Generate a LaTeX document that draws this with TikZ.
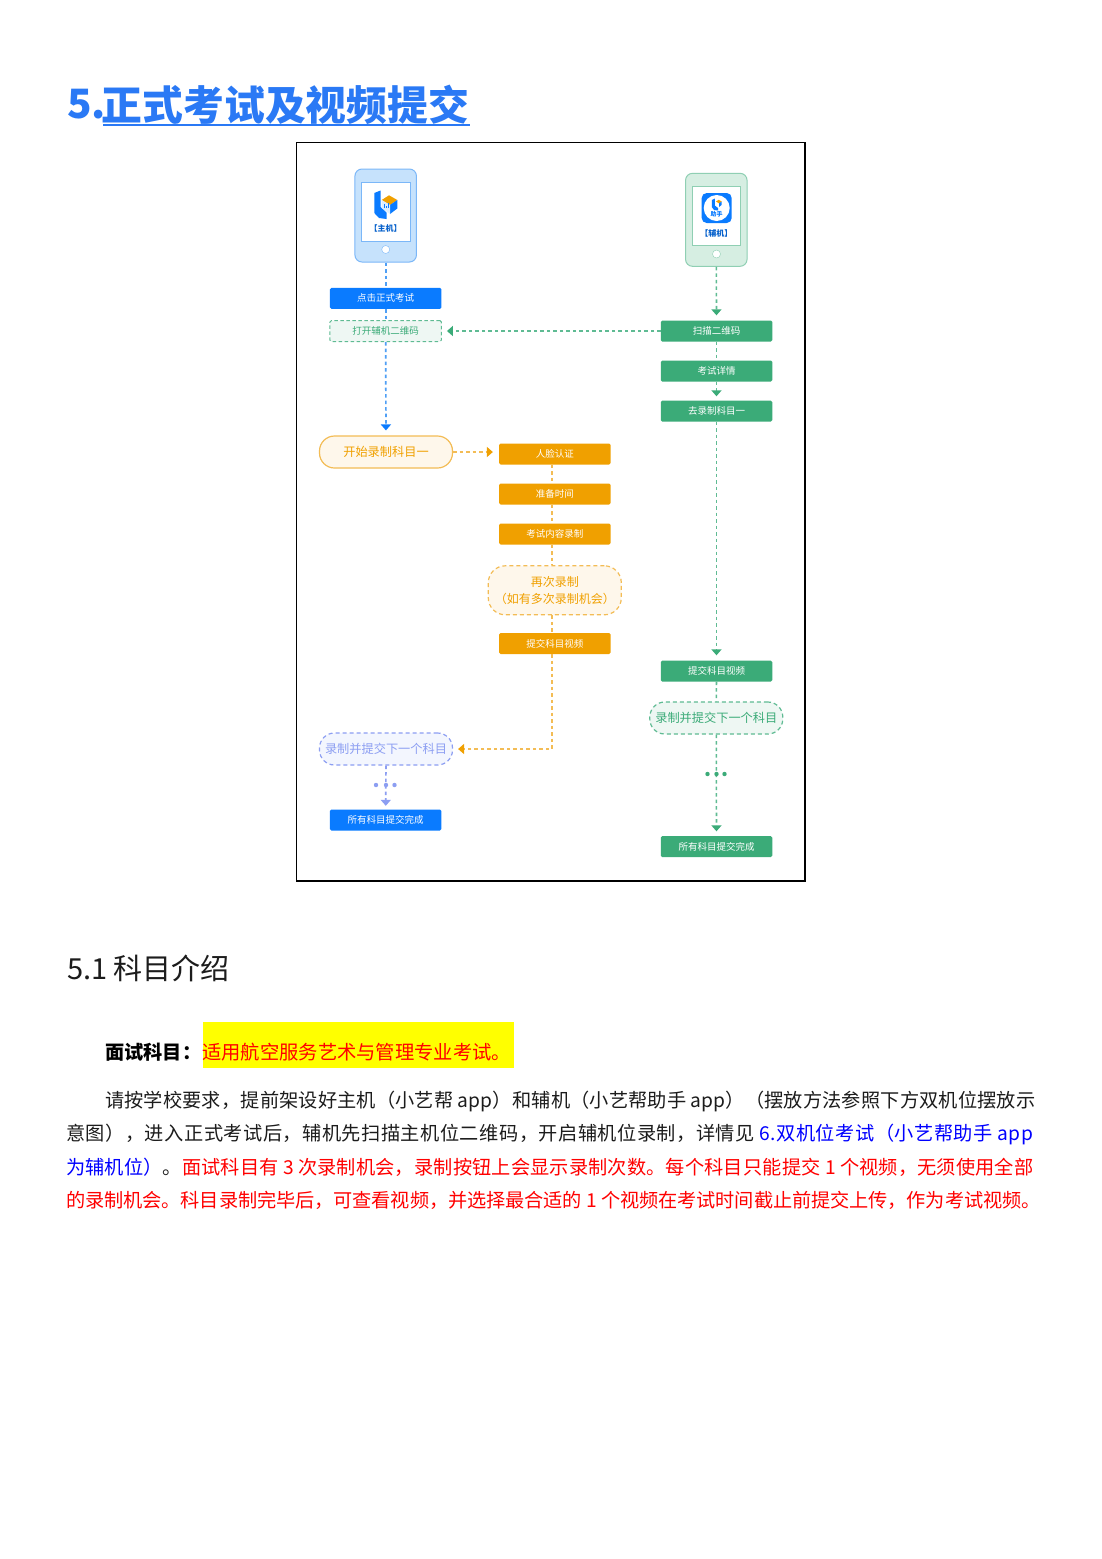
\documentclass[tikz,border=0pt]{standalone}
\usepackage{fontspec}
\usepackage{xcolor}
\setmainfont{Noto Sans CJK SC}
\usetikzlibrary{arrows.meta}
\usetikzlibrary{shapes.geometric}
\definecolor{colorBlue}{HTML}{0A7BFF}
\definecolor{colorBlueDash}{HTML}{4F9FF5}
\definecolor{colorBlueSoft}{HTML}{C6E2FC}
\definecolor{colorIndigo}{HTML}{8C9EF2}
\definecolor{colorIndigoSoft}{HTML}{F3F6FE}
\definecolor{colorGreen}{HTML}{3BAB78}
\definecolor{colorGreenLine}{HTML}{5FBB93}
\definecolor{colorGreenSoft}{HTML}{D6EEE2}
\definecolor{colorGreenPale}{HTML}{EEF7F3}
\definecolor{colorOrange}{HTML}{F0A000}
\definecolor{colorOrangeLine}{HTML}{F3BC55}
\definecolor{colorOrangeSoft}{HTML}{FEF7EB}
\definecolor{colorTitle}{HTML}{2A79F5}
\definecolor{colorInk}{HTML}{1C1C1C}
\definecolor{colorLink}{HTML}{0000FF}
\definecolor{colorMark}{HTML}{FFFF00}
\definecolor{colorAlert}{HTML}{FF0000}
\def\tracked#1{\addfontfeature{LetterSpace=#1}}
\tikzset{
  flowbox/.style={rectangle, rounded corners=1.5pt, minimum width=111.5pt, minimum height=21pt,
    inner sep=0pt, text=white, font=\fontsize{9.5}{11}\selectfont},
  bluebox/.style={flowbox, fill=colorBlue},
  greenbox/.style={flowbox, fill=colorGreen},
  orangebox/.style={flowbox, fill=colorOrange},
  dashbox/.style={flowbox, draw=colorGreenLine, fill=colorGreenPale, text=colorGreen,
    line width=1pt, dash pattern=on 3.5pt off 2.5pt},
  pill/.style={rectangle, rounded corners=15pt, minimum width=133pt, minimum height=32pt,
    inner sep=0pt, line width=1.2pt, font=\fontsize{12.2}{15}\selectfont},
  dashpill/.style={pill, dash pattern=on 4pt off 3pt},
  phone/.style={rectangle, rounded corners=7pt, minimum width=61.5pt, minimum height=93pt,
    inner sep=0pt, line width=1pt},
  screen/.style={rectangle, fill=white, minimum width=48.5pt, minimum height=59pt,
    inner sep=0pt, line width=0.8pt},
  bluelink/.style={draw=colorBlueDash, line width=1.7pt, dash pattern=on 3.5pt off 3pt},
  greenlink/.style={draw=colorGreenLine, line width=1.6pt, dash pattern=on 3.5pt off 3pt},
  orangelink/.style={draw=colorOrangeLine, line width=1.7pt, dash pattern=on 3.5pt off 3pt},
  indigolink/.style={draw=colorIndigo, line width=1.7pt, dash pattern=on 3.5pt off 3pt},
  bodyline/.style={anchor=base west, inner sep=0pt, text=colorInk,
    font=\fontsize{19.2}{24}\selectfont},
}
\begin{document}
\begin{tikzpicture}[x=1pt,y=-1pt]
  \useasboundingbox (0,0) rectangle (1102,1559);
  \fill[white] (0,0) rectangle (1102,1559);

  % Titres
  \node[anchor=west, inner sep=0pt, text=colorTitle, font=\fontsize{40.4}{48}\bfseries\selectfont] (titlenum)
    at (67,104.5) {5.};
  \node[anchor=west, inner sep=0pt, text=colorTitle, font=\fontsize{40.8}{48}\bfseries\selectfont] (titletext)
    at (101.7,104.5) {正式考试及视频提交};
  \draw[colorTitle, line width=1.8pt] (103,125.2) -- (469.5,125.2);
  \node[anchor=west, inner sep=0pt, text=colorInk, font=\fontsize{29}{36}\selectfont] (subtitle)
    at (67,968) {5.1 科目介绍};

  % Cadre
  \node[draw=black, line width=1.2pt, minimum width=508.5pt, minimum height=738.5pt, inner sep=0pt] (frame)
    at (550.7,511.7) {};

  % Telephones
  \node[phone, draw=colorBlueDash!75, fill=colorBlueSoft] (hostphone) at (385.7,215.5) {};
  \node[screen, draw=colorBlueDash!75] (hostscreen) at (385.7,211.5) {};
  \node[circle, draw=colorBlueDash!75, fill=white, minimum size=8pt, inner sep=0pt] (hostbutton) at (385.7,249.5) {};
  \node[phone, draw=colorGreenLine!70, fill=colorGreenSoft] (auxphone) at (716.3,219.8) {};
  \node[screen, draw=colorGreenLine!70] (auxscreen) at (716.3,216) {};
  \node[circle, draw=colorGreenLine!70, fill=white, minimum size=8pt, inner sep=0pt] (auxbutton) at (716.5,254) {};

  % Logo du poste principal
  \fill[colorBlue] (374.3,193) -- (380.6,190.5) -- (380.6,207) -- (386.5,212.5) -- (386.5,219) -- (379,218) -- (374.3,213) -- cycle;
  \fill[colorOrange] (381.7,200) -- (389,195.3) -- (397.3,200) -- (390,205) -- cycle;
  \fill[colorBlue] (390,205) -- (397.3,200) -- (397.3,208.5) -- (390,214) -- cycle;
  \fill[colorBlueSoft!60] (381.7,200) -- (390,205) -- (390,214) -- (381.7,208) -- cycle;
  \foreach \x/\h in {383.5/4, 385.5/2.5, 387.5/5}
    \fill[colorBlue] (\x,208) rectangle +(1.1,-\h);
  \node[inner sep=0pt, text=colorBlue!80!black, font=\fontsize{8}{9}\bfseries\selectfont] (hostlabel) at (385.7,228) {【主机】};

  % Logo du poste auxiliaire
  \node[rectangle, rounded corners=5pt, fill=colorBlue, minimum size=30pt, inner sep=0pt] (auxicon) at (716.7,208) {};
  \node[circle, fill=white, minimum size=26pt, inner sep=0pt] (auxdisc) at (716.7,208) {};
  \fill[colorBlue] (711.8,200) -- (714.8,198.5) -- (714.8,205.5) -- (718,208) -- (718,210.5) -- (714,210) -- (711.8,207) -- cycle;
  \fill[colorOrange] (716,201.5) -- (718.7,199.8) -- (721.7,201.5) -- (719,203.3) -- cycle;
  \fill[colorBlue] (719,203.3) -- (721.7,201.5) -- (721.5,205) -- (719,207) -- cycle;
  \node[inner sep=0pt, text=colorBlue, font=\fontsize{6}{7}\bfseries\selectfont] (auxname) at (716.7,214.5) {助手};
  \node[inner sep=0pt, text=colorBlue!80!black, font=\fontsize{8}{9}\bfseries\selectfont] (auxlabel) at (716.3,233) {【辅机】};

  % Colonne de gauche
  \node[bluebox] (clickexam) at (385.7,298.3) {点击正式考试};
  \node[dashbox] (openqr) at (385.7,331) {打开辅机二维码};
  \node[pill, draw=colorOrangeLine, fill=colorOrangeSoft, text=colorOrange] (startone) at (386,452) {开始录制科目一};
  \node[dashpill, draw=colorIndigo, fill=colorIndigoSoft, text=colorIndigo] (hostnext) at (386,749) {录制并提交下一个科目};
  \node[bluebox] (hostdone) at (385.7,820) {所有科目提交完成};

  % Colonne du milieu
  \node[orangebox] (face) at (554.8,454) {人脸认证};
  \node[orangebox] (prepare) at (554.8,494) {准备时间};
  \node[orangebox] (record) at (554.8,534) {考试内容录制};
  \node[dashpill, rounded corners=17pt, minimum height=49pt, draw=colorOrangeLine, fill=colorOrangeSoft, text=colorOrange,
    align=center, font=\fontsize{12}{17}\selectfont] (again) at (554.8,590.3) {再次录制\\（如有多次录制机会）};
  \node[orangebox] (hostsubmit) at (554.8,643.5) {提交科目视频};

  % Colonne de droite
  \node[greenbox] (scanqr) at (716.5,331) {扫描二维码};
  \node[greenbox] (detail) at (716.5,371) {考试详情};
  \node[greenbox] (goone) at (716.5,411) {去录制科目一};
  \node[greenbox] (auxsubmit) at (716.5,671) {提交科目视频};
  \node[dashpill, draw=colorGreenLine, fill=colorGreenPale, text=colorGreen] (auxnext) at (716.3,718) {录制并提交下一个科目};
  \node[greenbox] (auxdone) at (716.5,846.5) {所有科目提交完成};

  % Liaisons bleues
  \draw[bluelink] (hostphone) -- (clickexam);
  \draw[bluelink] (clickexam) -- (openqr);
  \draw[bluelink, shorten >=5pt, -{Triangle[width=10pt,length=6pt,color=colorBlue]}] (openqr) -- (startone);

  % Liaisons vertes
  \draw[greenlink, shorten >=5pt, -{Triangle[width=10pt,length=6pt,color=colorGreen]}] (auxphone) -- (scanqr);
  \draw[greenlink, shorten >=5pt, -{Triangle[width=10pt,length=6pt,color=colorGreen]}] (scanqr) -- (openqr);
  \draw[greenlink] (scanqr) -- (detail);
  \draw[greenlink, shorten >=4pt, -{Triangle[width=10pt,length=6pt,color=colorGreen]}] (detail) -- (goone);
  \draw[greenlink, shorten >=5pt, -{Triangle[width=10pt,length=6pt,color=colorGreen]}] (goone) -- (auxsubmit);
  \draw[greenlink] (auxsubmit) -- (auxnext);
  \draw[greenlink, shorten >=4.5pt, -{Triangle[width=10pt,length=6pt,color=colorGreen]}] (auxnext) -- (auxdone);

  % Liaisons orange
  \draw[orangelink, shorten >=6pt, -{Triangle[width=10pt,length=6pt,color=colorOrange]}] (startone.east) -- (startone.east -| face.west);
  \draw[orangelink] ([xshift=-3pt]face.south) -- ([xshift=-3pt]prepare.north);
  \draw[orangelink] ([xshift=-3pt]prepare.south) -- ([xshift=-3pt]record.north);
  \draw[orangelink] ([xshift=-3pt]record.south) -- ([xshift=-3pt]again.north);
  \draw[orangelink] ([xshift=-3pt]again.south) -- ([xshift=-3pt]hostsubmit.north);
  \draw[orangelink, shorten >=5pt, -{Triangle[width=10pt,length=6pt,color=colorOrange]}] ([xshift=-3pt]hostsubmit.south) |- (hostnext.east);

  % Fin de la colonne de gauche
  \draw[indigolink, shorten >=3.5pt, -{Triangle[width=10pt,length=6pt,color=colorIndigo]}] (hostnext) -- (hostdone);
  \foreach \x in {376,386,394.5}
    \fill[colorIndigo] (\x,785) circle (2.2);
  \foreach \x in {707.5,716.5,724.5}
    \fill[colorGreen] (\x,774) circle (2.2);

  % Texte
  \fill[colorMark] (203,1022) rectangle (514,1068);
  \node[anchor=base west, inner sep=0pt, text=black, font=\fontsize{19.2}{24}\bfseries\selectfont] (examlabel) at (105,1059) {面试科目：};
  \node[anchor=base west, inner sep=0pt, text=colorAlert, font=\fontsize{19.3}{24}\selectfont] (examscope) at (202,1059) {适用航空服务艺术与管理专业考试。};
  \node[bodyline] (lineone) at (105,1107)
    {\tracked{0.8}请按学校要求，提前架设好主机（小艺帮 app）和辅机（小艺帮助手 app）（摆放方法参照下方双机位摆放示};
  \node[bodyline] (linetwo) at (66,1140.5)
    {\tracked{2.55}意图），进入正式考试后，辅机先扫描主机位二维码，开启辅机位录制，详情见 \textcolor{colorLink}{6.双机位考试（小艺帮助手 app}};
  \node[bodyline, text=colorAlert] (linethree) at (66,1174)
    {\tracked{0.8}\textcolor{colorLink}{为辅机位）}\textcolor{colorInk}{。}面试科目有 3 次录制机会，录制按钮上会显示录制次数。每个科目只能提交 1 个视频，无须使用全部};
  \node[bodyline, text=colorAlert] (linefour) at (66,1207.5)
    {\tracked{-0.5}的录制机会。科目录制完毕后，可查看视频，并选择最合适的 1 个视频在考试时间截止前提交上传，作为考试视频。};
\end{tikzpicture}
\end{document}
